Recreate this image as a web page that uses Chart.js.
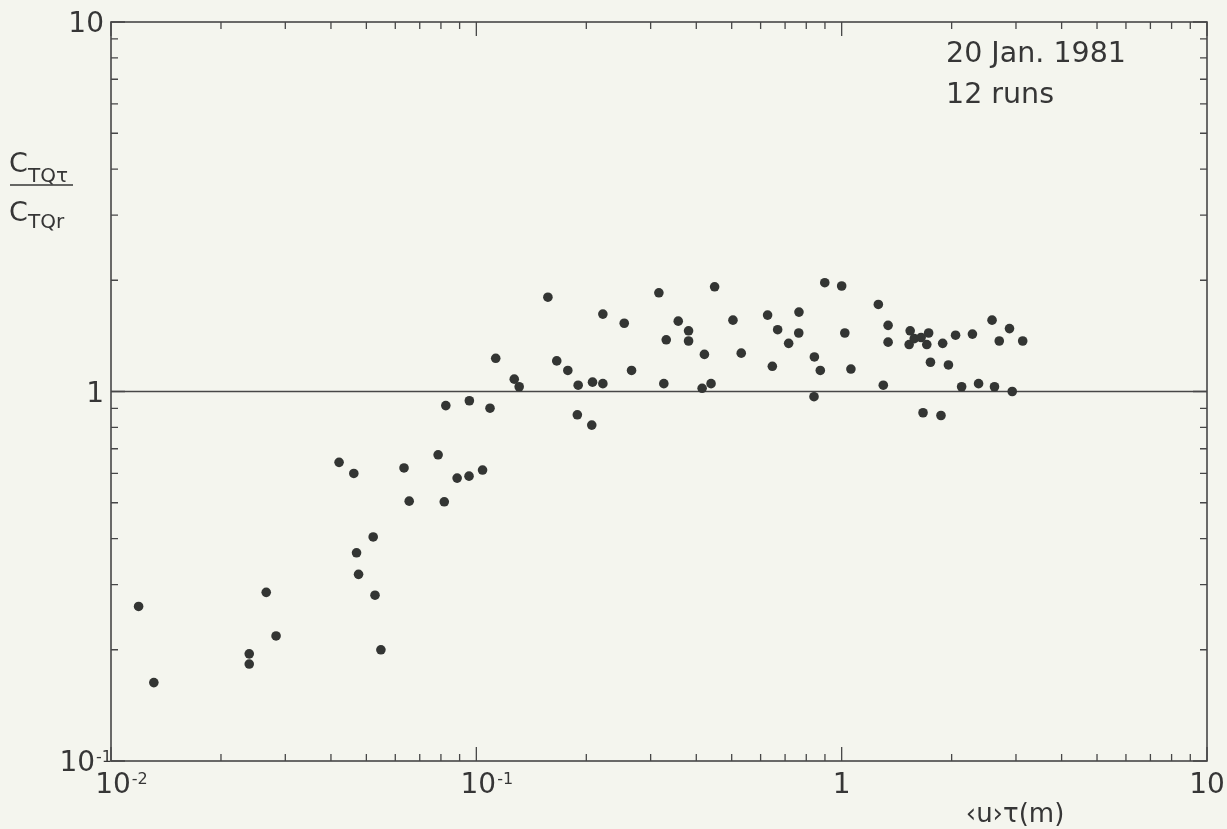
<!DOCTYPE html>
<html>
<head>
<meta charset="utf-8">
<script src="https://cdn.jsdelivr.net/npm/chart.js@4.4.1/dist/chart.umd.min.js"></script>
<style>
  html, body { margin: 0; padding: 0; background: #f4f5ee; }
  canvas { display: block; }
</style>
</head>
<body>
<canvas id="grafica" width="1227" height="829"></canvas>
<script>
// -----------------------------
// DATOS
// -----------------------------

// <u>tau (m)
const xValues = [
  0.0119, 0.0131, 0.0239, 0.0239, 0.0266, 0.0283, 0.0421, 0.0462, 0.0522, 0.0470,
  0.0476, 0.0528, 0.0548, 0.0634, 0.0655, 0.0786, 0.0817, 0.0825, 0.0886, 0.0955,
  0.0957, 0.104, 0.109, 0.113, 0.127, 0.131, 0.157, 0.166, 0.178, 0.190,
  0.189, 0.207, 0.208, 0.222, 0.222, 0.254, 0.266, 0.316, 0.326, 0.331,
  0.357, 0.381, 0.381, 0.415, 0.421, 0.439, 0.449, 0.504, 0.531, 0.627,
  0.646, 0.668, 0.716, 0.764, 0.763, 0.842, 0.840, 0.874, 0.899, 1.00,
  1.02, 1.06, 1.26, 1.34, 1.34, 1.30, 1.54, 1.53, 1.58, 1.65,
  1.73, 1.71, 1.75, 1.67, 1.89, 1.96, 1.87, 2.05, 2.13, 2.28,
  2.37, 2.58, 2.62, 2.88, 2.70, 2.93, 3.13
];

// C_TQtau / C_TQr
const yValues = [
  0.262, 0.163, 0.195, 0.183, 0.286, 0.218, 0.643, 0.600, 0.404, 0.366,
  0.320, 0.281, 0.200, 0.621, 0.505, 0.674, 0.503, 0.916, 0.583, 0.590,
  0.944, 0.613, 0.901, 1.23, 1.08, 1.03, 1.80, 1.21, 1.14, 1.04,
  0.865, 0.811, 1.06, 1.62, 1.05, 1.53, 1.14, 1.85, 1.05, 1.38,
  1.55, 1.46, 1.37, 1.02, 1.26, 1.05, 1.92, 1.56, 1.27, 1.61,
  1.17, 1.47, 1.35, 1.64, 1.44, 1.24, 0.968, 1.14, 1.97, 1.93,
  1.44, 1.15, 1.72, 1.51, 1.36, 1.04, 1.46, 1.34, 1.39, 1.40,
  1.44, 1.34, 1.20, 0.876, 1.35, 1.18, 0.861, 1.42, 1.03, 1.43,
  1.05, 1.56, 1.03, 1.48, 1.37, 1.00, 1.37
];

// ejes
const xMin = 0.01, xMax = 10;
const yMin = 0.1, yMax = 10;
const lineaRef = 1;

const xTicks = [0.01, 0.1, 1, 10];
const xTickText = ['10', '10', '1', '10'];
const xTickExp = ['-2', '-1', '', ''];

const yTicks = [0.1, 1, 10];
const yTickText = ['10', '1', '10'];
const yTickExp = ['-1', '', ''];

const nota = ['20 Jan. 1981', '12 runs'];
const tituloX = '\u2039u\u203A\u03C4(m)';

// -----------------------------
// ESTILO
// -----------------------------
const papel = '#f4f5ee';
const tinta = '#363636';
const fuente = '"DejaVu Sans", sans-serif';

const puntos = xValues.map((x, i) => ({ x: x, y: yValues[i] }));
const linea = [{ x: xMin, y: lineaRef }, { x: xMax, y: lineaRef }];

// solo 1..9 x 10^n (quita los 1.5 que mete chart.js)
function ticksEnteros(scale) {
  scale.ticks = scale.ticks.filter(t => {
    const e = Math.floor(Math.log10(t.value) + 1e-9);
    const m = t.value / Math.pow(10, e);
    return Math.abs(m - Math.round(m)) < 1e-6;
  });
}

function esMayor(v) {
  const l = Math.log10(v);
  return Math.abs(l - Math.round(l)) < 1e-6;
}

// numero con exponente
function potencia(ctx, base, exp, left, baseline) {
  ctx.font = '28px ' + fuente;
  ctx.fillText(base, left, baseline);
  const wb = ctx.measureText(base).width;
  if (exp) {
    ctx.font = '16px ' + fuente;
    ctx.fillText(exp, left + wb + 1, baseline - 9);
  }
}

function ancho(ctx, base, exp) {
  ctx.font = '28px ' + fuente;
  const wb = ctx.measureText(base).width;
  ctx.font = '16px ' + fuente;
  const we = exp ? ctx.measureText(exp).width + 1 : 0;
  return [wb, we];
}

const marco = {
  id: 'marco',
  beforeDraw(chart) {
    const ctx = chart.ctx;
    ctx.save();
    ctx.fillStyle = papel;
    ctx.fillRect(0, 0, chart.width, chart.height);
    ctx.restore();
  },
  afterDraw(chart) {
    const ctx = chart.ctx;
    const a = chart.chartArea;
    const sx = chart.scales.x, sy = chart.scales.y;
    ctx.save();

    // caja
    ctx.strokeStyle = '#474747';
    ctx.lineWidth = 1.6;
    ctx.strokeRect(a.left, a.top, a.right - a.left, a.bottom - a.top);

    // marcas hacia dentro
    ctx.lineWidth = 1.3;
    ctx.beginPath();
    sx.ticks.forEach(t => {
      const px = sx.getPixelForValue(t.value);
      const len = esMayor(t.value) ? 14 : 7;
      ctx.moveTo(px, a.bottom); ctx.lineTo(px, a.bottom - len);
      ctx.moveTo(px, a.top); ctx.lineTo(px, a.top + len);
    });
    sy.ticks.forEach(t => {
      const py = sy.getPixelForValue(t.value);
      const len = esMayor(t.value) ? 14 : 7;
      ctx.moveTo(a.left, py); ctx.lineTo(a.left + len, py);
      ctx.moveTo(a.right, py); ctx.lineTo(a.right - len, py);
    });
    ctx.stroke();

    // etiquetas
    ctx.fillStyle = tinta;
    ctx.textAlign = 'left';
    ctx.textBaseline = 'alphabetic';
    xTicks.forEach((v, i) => {
      const px = sx.getPixelForValue(v);
      const [wb] = ancho(ctx, xTickText[i], xTickExp[i]);
      potencia(ctx, xTickText[i], xTickExp[i], px - wb / 2 + (xTickExp[i] ? 2 : 0), a.bottom + 32);
    });
    yTicks.forEach((v, i) => {
      const py = sy.getPixelForValue(v);
      const [wb, we] = ancho(ctx, yTickText[i], yTickExp[i]);
      const right = yTickExp[i] ? a.left + 1 : a.left - 7;
      potencia(ctx, yTickText[i], yTickExp[i], right - wb - we, py + 10);
    });

    // titulo eje y (fraccion)
    ctx.font = '27px ' + fuente;
    ctx.fillText('C', 9, 172);
    ctx.fillText('C', 9, 221);
    ctx.font = '20px ' + fuente;
    ctx.fillText('TQ\u03C4', 28, 182);
    ctx.fillText('TQr', 28, 228);
    ctx.strokeStyle = tinta;
    ctx.lineWidth = 1.6;
    ctx.beginPath();
    ctx.moveTo(10, 185); ctx.lineTo(73, 185);
    ctx.stroke();

    // titulo eje x
    ctx.font = '26px ' + fuente;
    ctx.textAlign = 'center';
    ctx.fillText(tituloX, 1015, 822);

    // nota
    ctx.font = '28.5px ' + fuente;
    ctx.textAlign = 'left';
    ctx.fillText(nota[0], 946, 62);
    ctx.fillText(nota[1], 946, 103);

    ctx.restore();
  }
};

const ctxG = document.getElementById('grafica');

let grafica = new Chart(ctxG, {
  type: 'scatter',
  data: {
    datasets: [
      {
        type: 'line',
        data: linea,
        borderColor: '#474747',
        borderWidth: 1.5,
        pointRadius: 0,
        order: 2
      },
      {
        data: puntos,
        pointRadius: 4.8,
        pointBackgroundColor: '#333533',
        pointBorderColor: '#333533',
        pointBorderWidth: 0,
        order: 1
      }
    ]
  },
  options: {
    responsive: false,
    animation: false,
    devicePixelRatio: 1,
    layout: { padding: { left: 111, top: 22, right: 20, bottom: 68 } },
    plugins: {
      legend: { display: false },
      tooltip: { enabled: false }
    },
    scales: {
      x: {
        type: 'logarithmic',
        min: xMin, max: xMax,
        grid: { display: false, drawTicks: false },
        border: { display: false },
        ticks: { display: false },
        afterBuildTicks: ticksEnteros
      },
      y: {
        type: 'logarithmic',
        min: yMin, max: yMax,
        grid: { display: false, drawTicks: false },
        border: { display: false },
        ticks: { display: false },
        afterBuildTicks: ticksEnteros
      }
    }
  },
  plugins: [marco]
});
</script>
</body>
</html>
